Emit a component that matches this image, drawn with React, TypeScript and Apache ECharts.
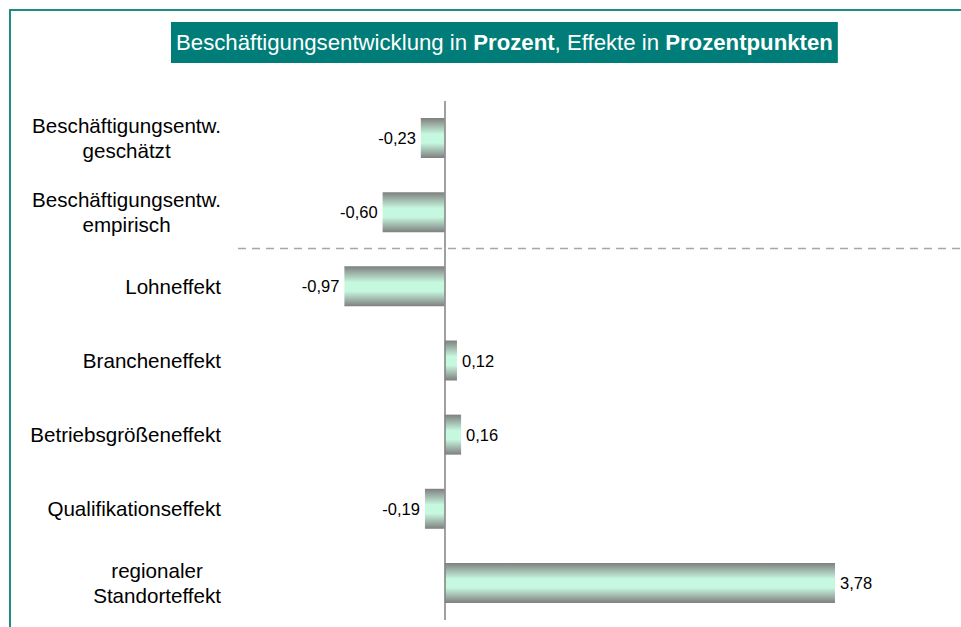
import React, { useEffect, useRef } from "react";
import * as echarts from "echarts";

const categories = [
  "Beschäftigungsentw.\ngeschätzt",
  "Beschäftigungsentw.\nempirisch",
  "Lohneffekt",
  "Brancheneffekt",
  "Betriebsgrößeneffekt",
  "Qualifikationseffekt",
  "regionaler\nStandorteffekt",
];
const values = [-0.23, -0.6, -0.97, 0.12, 0.16, -0.19, 3.78];
const titleText =
  "Beschäftigungsentwicklung in {b|Prozent}, Effekte in {b|Prozentpunkten}";

const FONT = "'Liberation Sans', Arial, Helvetica, sans-serif";
const TEAL = "#007d78";
const X_MIN = -2;
const X_MAX = 5;

export default function App() {
  const ref = useRef<HTMLDivElement>(null);
  useEffect(() => {
    if (!ref.current) return;
    const chart = echarts.init(ref.current, undefined, { renderer: "svg" });
    const barColor = new echarts.graphic.LinearGradient(0, 0, 0, 1, [
      { offset: 0, color: "#7f7f7f" },
      { offset: 0.4, color: "#c6f8df" },
      { offset: 0.62, color: "#c6f8df" },
      { offset: 1, color: "#7f7f7f" },
    ]);
    chart.setOption({
      animation: false,
      textStyle: { fontFamily: FONT },
      title: {
        text: titleText,
        left: 171,
        top: 22,
        padding: [8, 5],
        backgroundColor: TEAL,
        textStyle: {
          color: "#ffffff",
          fontSize: 22.2,
          fontWeight: "normal",
          fontFamily: FONT,
          lineHeight: 25,
          rich: {
            b: {
              color: "#ffffff",
              fontSize: 22.2,
              fontWeight: "bold",
              fontFamily: FONT,
              lineHeight: 25,
            },
          },
        },
      },
      graphic: [
        {
          id: "border",
          type: "polyline",
          silent: true,
          shape: { points: [[10, 627], [10, 10], [961, 10]] },
          style: { stroke: "#1f8b89", lineWidth: 2, fill: null },
        },
      ],
      grid: { left: 238, right: 0, top: 101, bottom: 7, containLabel: false },
      xAxis: {
        type: "value",
        min: X_MIN,
        max: X_MAX,
        interval: 1,
        show: false,
      },
      yAxis: {
        type: "category",
        data: categories,
        inverse: true,
        axisLine: { show: false },
        axisTick: { show: false },
        splitLine: { show: false },
        axisLabel: {
          margin: 17,
          color: "#000",
          fontSize: 20.6,
          fontFamily: FONT,
          lineHeight: 25,
          formatter: (v: string) =>
            v
              .split("\n")
              .map((l) => `{c|${l}}`)
              .join("\n"),
          rich: {
            c: {
              align: "center",
              fontSize: 20.6,
              lineHeight: 25,
              color: "#000",
              fontFamily: FONT,
            },
          },
        },
      },
      series: [
        {
          type: "bar",
          barWidth: 40,
          data: values.map((v) => ({
            value: v,
            label: { position: v < 0 ? "left" : "right" },
          })),
          itemStyle: { color: barColor },
          label: {
            show: true,
            distance: 5,
            color: "#000",
            fontSize: 16.5,
            fontFamily: FONT,
            formatter: (p: any) => p.value.toFixed(2).replace(".", ","),
          },
          markLine: {
            silent: true,
            symbol: "none",
            label: { show: false },
            lineStyle: { color: "#808080", width: 1.5, type: "solid" },
            data: [{ xAxis: 0 }],
          },
        },
      ],
    });
    // dashed separator between the two employment rows and the effects
    const y1 = chart.convertToPixel({ yAxisIndex: 0 }, categories[1]) as number;
    const y2 = chart.convertToPixel({ yAxisIndex: 0 }, categories[2]) as number;
    const xL = chart.convertToPixel({ xAxisIndex: 0 }, X_MIN) as number;
    const xR = chart.convertToPixel({ xAxisIndex: 0 }, X_MAX) as number;
    const yMid = Math.round((y1 + y2) / 2) - 0.5;
    chart.setOption({
      graphic: [
        {
          id: "sep",
          type: "line",
          silent: true,
          z: 1,
          shape: { x1: xL, y1: yMid, x2: xR, y2: yMid },
          style: { stroke: "#a6a6a6", lineWidth: 1.5, lineDash: [8, 6] },
        },
      ],
    });
    return () => chart.dispose();
  }, []);
  return (
    <div
      ref={ref}
      style={{ position: "absolute", left: 0, top: 0, width: 961, height: 627 }}
    />
  );
}
